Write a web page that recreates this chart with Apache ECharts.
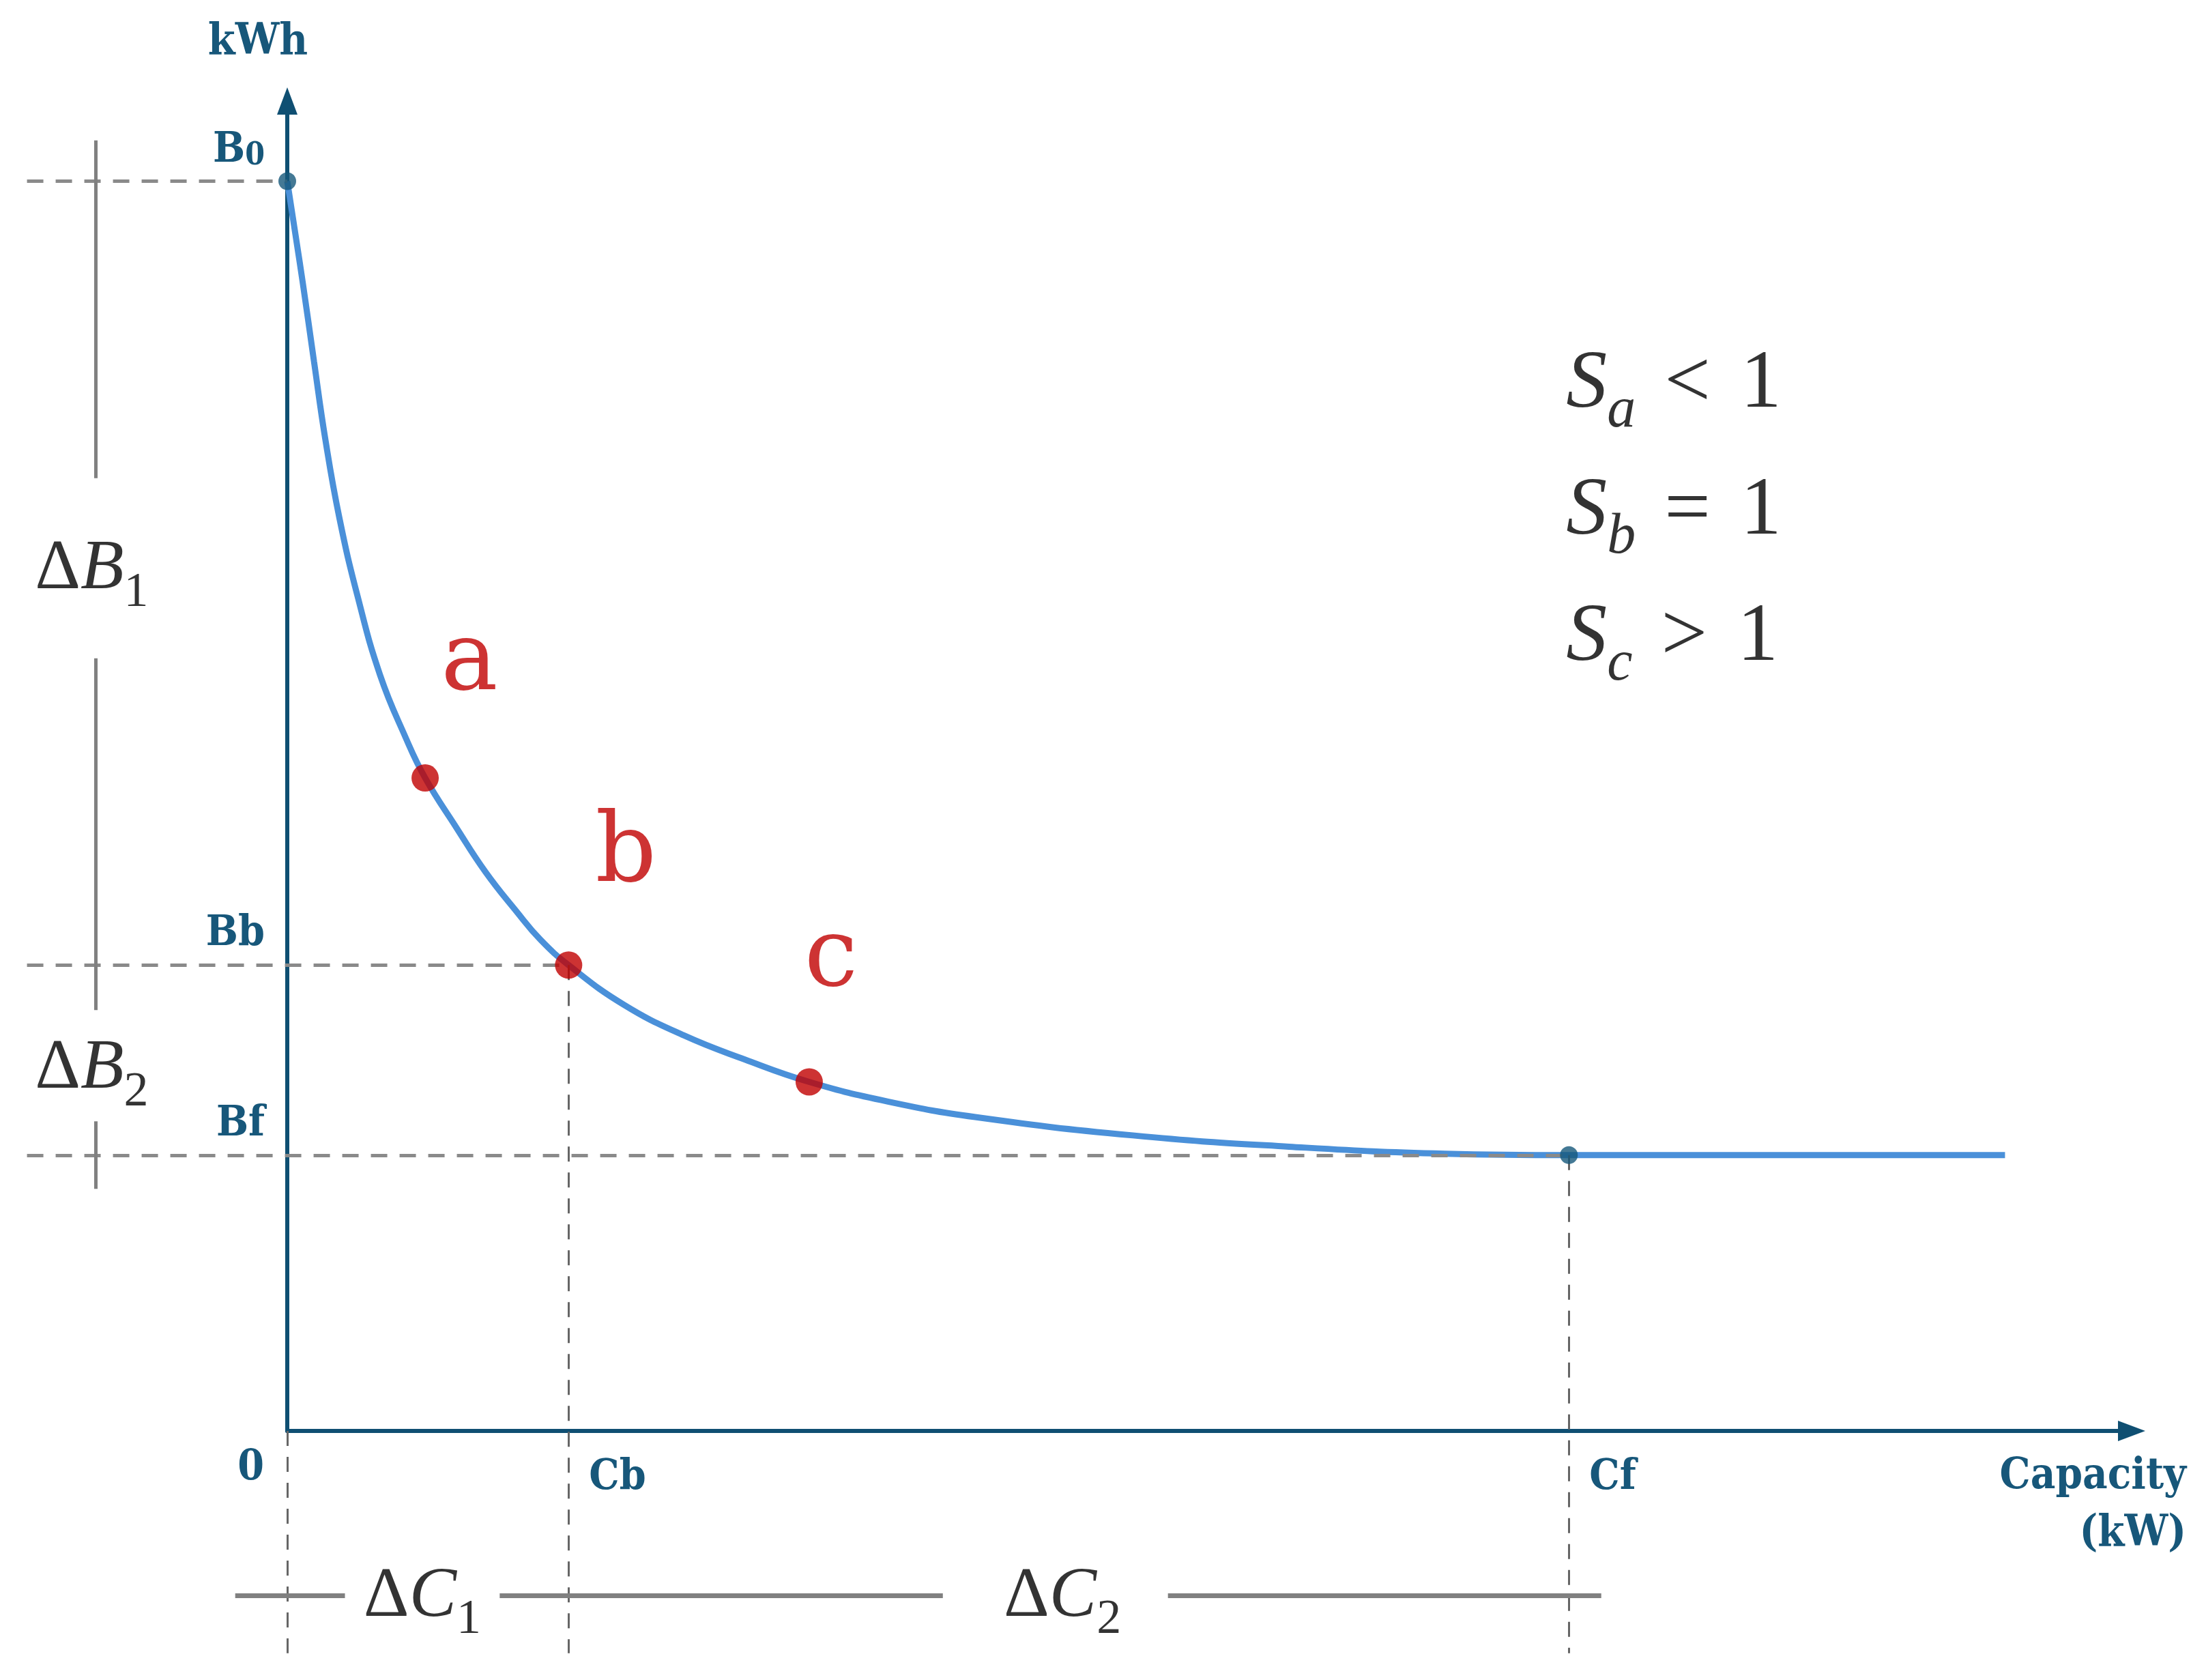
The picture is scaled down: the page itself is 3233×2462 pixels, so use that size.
<!DOCTYPE html>
<html>
<head>
<meta charset="utf-8">
<title>kWh vs Capacity</title>
<script src="https://cdn.jsdelivr.net/npm/echarts@6/dist/echarts.min.js"></script>
<style>
  html, body { margin: 0; padding: 0; background: #fff; }
  #chart { width: 3233px; height: 2462px; }
</style>
</head>
<body>
<div id="chart"></div>
<script>
// curve (arbitrary capacity / kWh units)
const capacity = [0, 11, 19, 27, 37, 50, 66, 84, 98, 120, 141, 163, 180, 200, 239, 282, 325, 371, 427, 489, 601, 712, 823, 911, 1221]
const energy = [888, 816, 760, 705, 649, 593, 537, 493, 464, 429, 397, 369, 349, 331, 303, 281, 264, 248, 234, 223, 210, 202, 197, 196, 196]

// named levels on the axes
const B0 = 888, Bb = 331, Bf = 196
const Cb = 200, Cf = 911

// the three marked points on the curve
const pointNames = ['a', 'b', 'c']
const pointX = [98, 200, 371]
const pointY = [464, 331, 248]

// S ratios shown on the right
const ratioSubs = ['a', 'b', 'c']
const ratioOps = ['<', '=', '>']

// ---- layout (not data) ----
const X_MAX = 1311, Y_MAX = 945
const GUIDE_LEFT = -185, GUIDE_BOTTOM = -158
const DIM_X = -136, DIM_Y = -117

const AXIS = '#0f4f72'
const LABEL = '#17577a'
const GRAY = '#808080'
const SLAB = '"DejaVu Serif Condensed", "DejaVu Serif", serif'
const MATH = '"Liberation Serif", serif'

let chart = echarts.init(document.getElementById('chart'))

let curve = capacity.map((x, i) => [x, energy[i]])

// dashed guide lines built from the named levels
let guideH = [
    [[GUIDE_LEFT, B0], [0, B0]],
    [[GUIDE_LEFT, Bb], [Cb, Bb]],
    [[GUIDE_LEFT, Bf], [Cf, Bf]]
]
let guideV = [
    [[0, 0], [0, GUIDE_BOTTOM]],
    [[Cb, Bb], [Cb, GUIDE_BOTTOM]],
    [[Cf, Bf], [Cf, GUIDE_BOTTOM]]
]
// solid dimension lines (gaps leave room for the delta labels)
let dimV = [[917, 677], [549, 299], [220, 172]].map(s => [[DIM_X, s[0]], [DIM_X, s[1]]])
let dimH = [[-37, 41], [151, 466], [626, 934]].map(s => [[s[0], DIM_Y], [s[1], DIM_Y]])

// line series clamp x to the axis, so the segments go through a lines series
function segSeries(segs, style, z) {
    return {
        type: 'lines',
        coordinateSystem: 'cartesian2d',
        data: segs.map(seg => ({ coords: seg })),
        clip: false,
        silent: true,
        z: z,
        lineStyle: Object.assign({ opacity: 1, curveness: 0 }, style)
    }
}

let tickNames = {}
tickNames[B0] = '{m|B}{s|0}'
tickNames[Bb] = '{m|Bb}'
tickNames[Bf] = '{m|Bf}'
tickNames[Cb] = '{m|Cb}'
tickNames[Cf] = '{m|Cf}'

let tickRich = {
    m: { fontFamily: SLAB, fontWeight: 'bold', fontSize: 62, color: LABEL },
    s: { fontFamily: SLAB, fontWeight: 'bold', fontSize: 46, color: LABEL, verticalAlign: 'bottom' }
}

let mathRich = {
    d: { fontFamily: MATH, fontSize: 104, lineHeight: 140, color: '#000' },
    v: { fontFamily: MATH, fontStyle: 'italic', fontSize: 104, lineHeight: 140, color: '#000' },
    sub: { fontFamily: MATH, fontSize: 72, lineHeight: 72, verticalAlign: 'bottom', color: '#000' },
    S: { fontFamily: MATH, fontStyle: 'italic', fontSize: 120, lineHeight: 160, color: '#000' },
    si: { fontFamily: MATH, fontStyle: 'italic', fontSize: 84, lineHeight: 84, verticalAlign: 'bottom', color: '#000' },
    op: { fontFamily: MATH, fontSize: 120, lineHeight: 160, color: '#000', padding: [0, 44, 0, 42] },
    n: { fontFamily: MATH, fontSize: 120, lineHeight: 160, color: '#000' }
}

let notes = [
    { value: [-139, 612], label: { formatter: '{d|Δ}{v|B}{sub|1}' } },
    { value: [-139, 257], label: { formatter: '{d|Δ}{v|B}{sub|2}' } },
    { value: [96, -118], label: { formatter: '{d|Δ}{v|C}{sub|1}' } },
    { value: [551, -118], label: { formatter: '{d|Δ}{v|C}{sub|2}' } }
]
ratioSubs.forEach((s, i) => {
    notes.push({
        value: [909, 743 - i * 90],
        label: { align: 'left', formatter: '{S|S}{si|' + s + '}{op|' + ratioOps[i] + '}{n|1}' }
    })
})

let labelOffsets = [[65, -166], [84, -160], [32, -178]]

let option = {
    backgroundColor: '#fff',
    animation: false,
    grid: { left: 421, right: 109, top: 148, bottom: 365 },
    xAxis: [
        {
            type: 'value',
            min: 0,
            max: X_MAX,
            axisLine: {
                symbol: ['none', 'triangle'],
                symbolSize: [30, 40],
                lineStyle: { color: AXIS, width: 6 }
            },
            axisTick: { show: false },
            splitLine: { show: false },
            axisLabel: {
                customValues: [Cb, Cf],
                formatter: v => tickNames[v],
                align: 'left',
                verticalAlign: 'top',
                margin: 38,
                padding: [0, 0, 0, 30],
                rich: tickRich
            },
            name: 'Capacity\n(kW)',
            nameLocation: 'end',
            nameGap: 80,
            nameTextStyle: {
                fontFamily: SLAB,
                fontWeight: 'bold',
                fontSize: 63,
                lineHeight: 84,
                color: LABEL,
                align: 'right',
                verticalAlign: 'top',
                padding: [26, 0, 0, 0]
            }
        },
        {
            // only for the "0" at the origin
            type: 'value',
            min: 0,
            max: X_MAX,
            position: 'bottom',
            axisLine: { show: false },
            axisTick: { show: false },
            splitLine: { show: false },
            axisLabel: {
                customValues: [0],
                formatter: '{m|0}',
                align: 'right',
                verticalAlign: 'top',
                margin: 24,
                padding: [0, 34, 0, 0],
                rich: tickRich
            }
        }
    ],
    yAxis: {
        type: 'value',
        min: 0,
        max: Y_MAX,
        axisLine: {
            symbol: ['none', 'triangle'],
            symbolSize: [30, 40],
            lineStyle: { color: AXIS, width: 6 }
        },
        axisTick: { show: false },
        splitLine: { show: false },
        axisLabel: {
            customValues: [Bf, Bb, B0],
            formatter: v => tickNames[v],
            align: 'right',
            verticalAlign: 'bottom',
            margin: 33,
            padding: [0, 0, 14, 0],
            rich: tickRich
        },
        name: 'kWh',
        nameLocation: 'end',
        nameGap: 86,
        nameTextStyle: {
            fontFamily: SLAB,
            fontWeight: 'bold',
            fontSize: 64,
            color: LABEL,
            align: 'center',
            verticalAlign: 'middle',
            padding: [0, 86, 0, 0]
        }
    },
    series: [
        {
            name: 'curve',
            type: 'line',
            data: curve,
            smooth: 0.45,
            showSymbol: false,
            symbol: 'none',
            z: 2,
            lineStyle: { color: '#4a90d9', width: 9 }
        },
        segSeries(guideH, { color: '#8a8a8a', width: 5, type: [24, 18] }, 3),
        segSeries(guideV, { color: '#666', width: 3, type: [22, 16] }, 3),
        segSeries(dimV, { color: GRAY, width: 5 }, 3),
        segSeries(dimH, { color: GRAY, width: 7 }, 3),
        {
            name: 'ends',
            type: 'scatter',
            data: [[0, B0], [Cf, Bf]],
            symbolSize: 26,
            z: 5,
            itemStyle: { color: '#15587a' }
        },
        {
            name: 'points',
            type: 'scatter',
            data: pointX.map((x, i) => ({
                value: [x, pointY[i]],
                label: { offset: labelOffsets[i] }
            })),
            symbolSize: 40,
            z: 6,
            itemStyle: { color: '#c00000' },
            label: {
                show: true,
                position: 'inside',
                formatter: p => pointNames[p.dataIndex],
                fontFamily: '"DejaVu Serif", serif',
                fontSize: 140,
                color: '#c00000'
            }
        },
        {
            name: 'notes',
            type: 'scatter',
            data: notes,
            symbolSize: 0,
            clip: false,
            silent: true,
            z: 6,
            label: {
                show: true,
                position: 'inside',
                align: 'center',
                verticalAlign: 'middle',
                rich: mathRich
            }
        }
    ]
}
chart.setOption(option)
window.addEventListener('resize', function () {
    chart.resize()
})
</script>
</body>
</html>
